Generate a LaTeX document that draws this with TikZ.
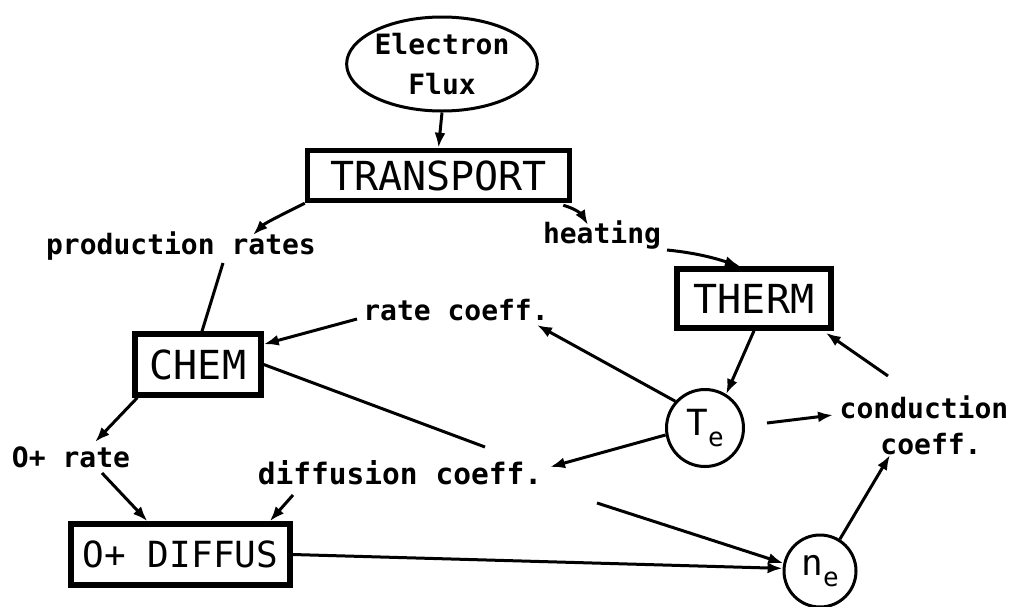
\documentclass[tikz,border=0pt]{standalone}
\usepackage{fontspec}
\setmainfont{DejaVu Sans Mono}
\usetikzlibrary{arrows.meta,shapes.geometric,calc}
\newcommand\boxfnt{\fontsize{40}{44}\selectfont}
\newcommand\lblfnt{\fontsize{28}{36}\selectfont\bfseries}
\begin{document}
\begin{tikzpicture}[x=1pt,y=-1pt,
  box/.style={draw, line width=5.5pt, inner sep=0pt, font=\boxfnt},
  lbl/.style={inner sep=0pt, font=\lblfnt, align=center},
  circ/.style={draw, circle, line width=3pt, inner sep=0pt},
  conn/.style={line width=3pt, -{Latex[length=15pt,width=11pt]}},
  plainline/.style={line width=3pt}]
\useasboundingbox (0,0) rectangle (1019,606);
% main nodes
\node[draw, ellipse, line width=3pt, minimum width=178pt, minimum height=94pt,
      inner sep=0pt, align=center, font=\fontsize{28}{40}\selectfont\bfseries] (ef) at (442,64) {Electron\\Flux};
\node[box, minimum width=262pt, minimum height=50pt] (tr) at (438.5,175.5) {TRANSPORT};
\node[box, minimum width=126pt, minimum height=61pt] (chem) at (198,364.5) {CHEM};
\node[box, minimum width=154pt, minimum height=59pt] (therm) at (754,298.5) {THERM};
\node[box, minimum width=219pt, minimum height=61pt, font=\fontsize{36}{40}\selectfont] (od) at (180.5,554.5) {O+ DIFFUS};
\node[circ, minimum size=77pt] (te) at (705,428)
  {\fontsize{36}{36}\selectfont T\raisebox{-11pt}{\fontsize{26}{26}\selectfont e}};
\node[circ, minimum size=72pt] (ne) at (820,571)
  {\fontsize{36}{36}\selectfont n\raisebox{-11pt}{\fontsize{26}{26}\selectfont e}};
% labels
\node[lbl] (pr) at (181,246) {production rates};
\node[lbl] (heat) at (602,235) {heating};
\node[lbl] (rc) at (456,310) {rate coeff.};
\node[lbl, font=\fontsize{29.5}{36}\selectfont\bfseries] (dc) at (400,473) {diffusion coeff.};
\node[lbl] (cc) at (924,425) {conduction\\\hspace*{14pt}coeff.};
\node[lbl] (orate) at (71,457) {O+ rate};
% connectors
\draw[conn] (ef.south) -- (tr.north);
\draw[conn] (tr.south west) .. controls +(-20,10) and +(12,-12) .. ($(pr.center)+(72,-11)$);
\draw[plainline] ($(pr.center)+(42,17)$) -- ($(chem.north)+(4,0)$);
\draw[conn] ($(tr.south east)+(-9,2)$) .. controls +(14,4) and +(-6,-10) .. ($(heat.center)+(-14,-10)$);
\draw[conn] ($(heat.center)+(65,15)$) .. controls +(30,3) and +(-25,-8) .. ($(therm.north)+(-14,0)$);
\draw[conn] ($(rc.center)+(-99,9)$) -- ($(chem.north east)+(0,13)$);
\coordinate (g1) at (485,447);
\coordinate (g2) at (597,503);
\draw[plainline] (chem.east) -- (g1);
\draw[conn] (g2) -- (ne.168);
\draw[conn] (te.138) -- ($(rc.center)+(81,15)$);
\draw[conn] (te.190) -- ($(dc.center)+(150,-6)$);
\draw[conn] (therm.south) -- (te.58);
\draw[conn] ($(cc.center)+(-36,-49)$) -- ($(therm.south east)+(-8,2)$);
\draw[conn] ($(te.east)+(22,-5)$) -- ($(cc.center)+(-91,-10)$);
\draw[conn] (ne.58) -- ($(cc.center)+(-34,30)$);
\draw[conn] (od.east) -- (ne.176);
\draw[conn] ($(chem.south west)+(5,0)$) -- ($(orate.center)+(24,-15)$);
\draw[conn] ($(orate.center)+(31,16)$) -- ($(od.north)+(-33,0)$);
\draw[conn] ($(dc.center)+(-107,22)$) -- ($(od.north east)+(-23,0)$);
\end{tikzpicture}
\end{document}
